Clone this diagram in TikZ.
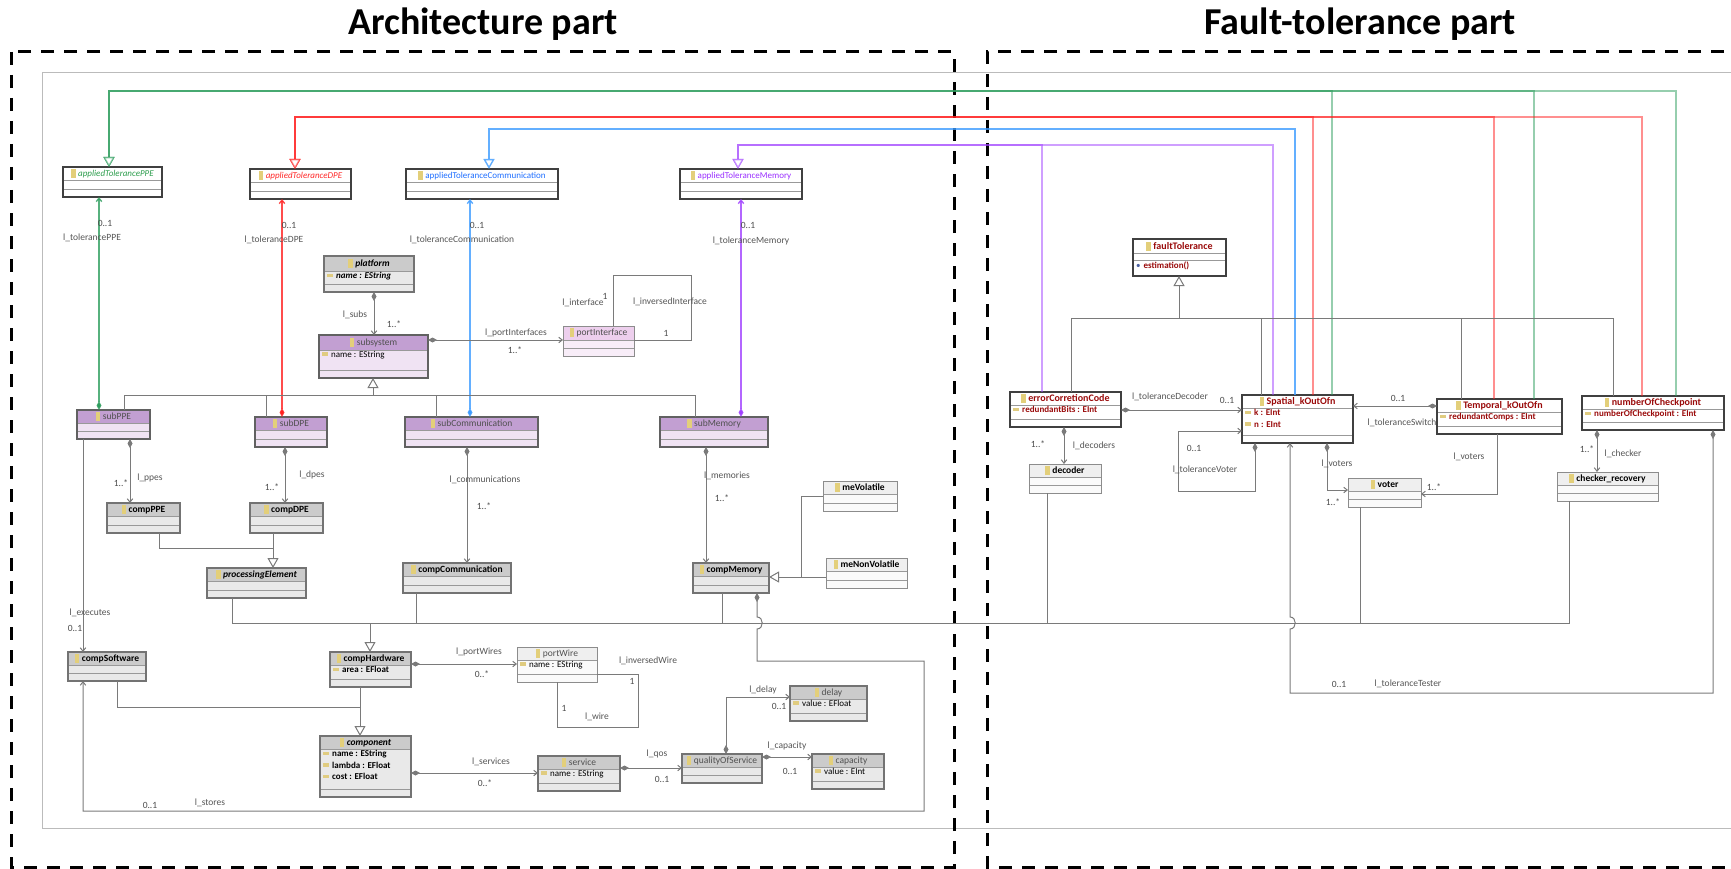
\documentclass[tikz,border=0pt]{standalone}
\usepackage{fontspec}
\setmainfont{Carlito}
\usetikzlibrary{arrows.meta}
\definecolor{cG}{HTML}{2E9E5E}
\definecolor{cR}{HTML}{FF2020}
\definecolor{cB}{HTML}{3D9BFF}
\definecolor{cP}{HTML}{A040FF}
\definecolor{tG}{HTML}{2E9E4E}
\definecolor{tR}{HTML}{FF2A2A}
\definecolor{tB}{HTML}{1F6FFF}
\definecolor{tP}{HTML}{9B30FF}
\definecolor{dred}{HTML}{9A0A0A}
\definecolor{grH}{HTML}{CBCBCB}
\definecolor{grB}{HTML}{E9E9E9}
\definecolor{puH}{HTML}{C29FD2}
\definecolor{puB}{HTML}{F0E3F3}
\definecolor{pkH}{HTML}{EDCFED}
\definecolor{pkB}{HTML}{F8EDF8}
\definecolor{whH}{HTML}{FFFFFF}
\definecolor{whB}{HTML}{FFFFFF}
\definecolor{lgH}{HTML}{EFEFEF}
\definecolor{lgB}{HTML}{FAFAFA}
\definecolor{icY}{HTML}{E3CF7A}
\definecolor{icA}{HTML}{E0CC80}
\definecolor{opB}{HTML}{4A5FA0}
\definecolor{lnC}{HTML}{7A7A7A}
\definecolor{lblC}{HTML}{555555}
\definecolor{frC}{HTML}{BBBBBB}
\definecolor{tGray}{HTML}{505050}
\tikzset{
 clsnode/.style={rectangle, inner sep=0pt, outer sep=0pt, draw=none},
 sepline/.style={draw=black!40, line width=0.8pt},
 grborder/.style={draw=black!55, line width=1.1pt},
 puborder/.style={draw=black!62, line width=1.2pt},
 pkborder/.style={draw=black!45, line width=1pt},
 whborder/.style={draw=black!75, line width=1.4pt},
 lgborder/.style={draw=black!45, line width=1pt},
 ctitle/.style={inner sep=0pt, font=\fontsize{9.5}{11}\selectfont},
 cattr/.style={anchor=north west, inner sep=0pt, align=left, font=\fontsize{9}{11.5}\selectfont},
 conn/.style={draw=lnC, line width=1pt},
 cline/.style={line width=1.4pt, draw opacity=0.5},
 aline/.style={line width=1.4pt, draw opacity=0.8},
 lbltxt/.style={inner sep=0pt, text=lblC, font=\fontsize{9.5}{11}\selectfont},
 multtxt/.style={inner sep=0pt, text=black!70, font=\fontsize{9.5}{11}\selectfont},
 titletxt/.style={inner sep=0pt, font=\fontsize{38}{40}\selectfont\bfseries},
 dashframe/.style={draw=black, line width=3pt, dash pattern=on 13pt off 10pt},
 Dmd/.tip={Diamond[length=9pt,width=5pt]},
 Nav/.tip={Straight Barb[length=3.5pt,width=5.5pt]},
 Gen/.tip={Triangle[length=10pt,width=11pt,fill=white]},
}
\newcommand\cicon{\textcolor{icY}{\rule[-1.5pt]{4.5pt}{9pt}}}
\newcommand\aicon{\textcolor{icA}{\rule[1.5pt]{6pt}{3.5pt}}}
\newcommand\ttl[1]{\cicon\hspace{2.5pt}#1}
\newcommand\att[1]{\aicon\hspace{3pt}#1}
\newcommand\ftt[1]{\fontsize{10}{11}\selectfont\bfseries\textcolor{dred}{#1}}
% #1 name #2 x1 #3 y1 #4 x2 #5 y2 #6 kind #7 title #8 header bottom #9 attrs
\newcommand\umlcls[9]{%
 \node[clsnode, fill=#6B, minimum width={(#4-#2)*1pt}, minimum height={(#5-#3)*1pt}, anchor=north west] (#1) at (#2,#3) {};
 \fill[#6H] (#2,#3) rectangle (#4,#8);
 \draw[sepline] (#2,#8) -- (#4,#8);
 \draw[sepline] (#2,{#5-8}) -- (#4,{#5-8});
 \draw[#6border] (#1.north west) rectangle (#1.south east);
 \node[ctitle] (#1-t) at ({(#2+#4)/2},{(#3+#8)/2}) {#7};
 \node[cattr] (#1-a) at ({#2+3},{#8+1}) {#9};
}
\newcounter{lblcnt}
\newcommand\lbl[3]{\stepcounter{lblcnt}\node[lbltxt] (lab\arabic{lblcnt}) at (#1,#2) {#3};}
\newcommand\mlt[3]{\stepcounter{lblcnt}\node[multtxt] (lab\arabic{lblcnt}) at (#1,#2) {#3};}
\begin{document}
\begin{tikzpicture}[x=1pt,y=-1pt]
\useasboundingbox (0,0) rectangle (1731,869);
\clip (0,0) rectangle (1731,869);
\fill[white] (0,0) rectangle (1731,869);
% frames
\draw[draw=frC, line width=1pt] (1745,73) -- (42,73) -- (42,828) -- (1745,828);
\draw[dashframe] (11,52) rectangle (954,867);
\draw[dashframe] (1770,52) -- (987,52) -- (987,867) -- (1770,867);
\node[titletxt] (title1) at (483,24) {Architecture part};
\node[titletxt] (title2) at (1360,24) {Fault-tolerance part};

% ---------- classes: architecture part ----------
\umlcls{atPPE}{63}{167}{162}{197}{wh}{\ttl{\fontsize{9}{10}\selectfont\textcolor{tG}{\itshape appliedTolerancePPE}}}{180}{}
\umlcls{atDPE}{250}{169}{351}{199}{wh}{\ttl{\fontsize{9}{10}\selectfont\textcolor{tR}{\itshape appliedToleranceDPE}}}{182}{}
\umlcls{atComm}{406}{169}{558}{199}{wh}{\ttl{\fontsize{9}{10}\selectfont\textcolor{tB}{appliedToleranceCommunication}}}{182}{}
\umlcls{atMem}{680}{169}{802}{199}{wh}{\ttl{\fontsize{9}{10}\selectfont\textcolor{tP}{appliedToleranceMemory}}}{182}{}
\umlcls{platform}{324}{256}{414}{292}{gr}{\ttl{\bfseries\itshape platform}}{271}{\att{\bfseries\itshape name : EString}}
\umlcls{subsystem}{319}{335}{428}{378}{pu}{\ttl{\textcolor{tGray}{subsystem}}}{350}{\att{name : EString}}
\umlcls{portInterface}{563}{326}{634}{356}{pk}{\ttl{\textcolor{tGray}{portInterface}}}{340}{}
\umlcls{subPPE}{77}{410}{150}{439}{pu}{\ttl{\textcolor{tGray}{subPPE}}}{423}{}
\umlcls{subDPE}{255}{417}{327}{447}{pu}{\ttl{\textcolor{tGray}{subDPE}}}{430}{}
\umlcls{subComm}{405}{417}{538}{447}{pu}{\ttl{\textcolor{tGray}{subCommunication}}}{430}{}
\umlcls{subMem}{660}{417}{768}{447}{pu}{\ttl{\textcolor{tGray}{subMemory}}}{430}{}
\umlcls{compPPE}{107}{503}{180}{533}{gr}{\ttl{\bfseries compPPE}}{516}{}
\umlcls{compDPE}{250}{503}{323}{533}{gr}{\ttl{\bfseries compDPE}}{516}{}
\umlcls{procElem}{207}{568}{306}{598}{gr}{\ttl{\bfseries\itshape processingElement}}{581}{}
\umlcls{compComm}{403}{563}{511}{593}{gr}{\ttl{\bfseries compCommunication}}{576}{}
\umlcls{compMem}{693}{563}{769}{593}{gr}{\ttl{\bfseries compMemory}}{576}{}
\umlcls{meVol}{823}{481}{897}{511}{lg}{\ttl{\bfseries meVolatile}}{494}{}
\umlcls{meNonVol}{826}{558}{907}{588}{lg}{\ttl{\bfseries meNonVolatile}}{571}{}
\umlcls{compSoftware}{68}{652}{146}{681}{gr}{\ttl{\bfseries compSoftware}}{665}{}
\umlcls{compHardware}{330}{652}{411}{687}{gr}{\ttl{\bfseries compHardware}}{665}{\att{\bfseries area : EFloat}}
\umlcls{component}{320}{736}{411}{797}{gr}{\ttl{\bfseries\itshape component}}{749}{\att{\bfseries name : EString}\\\att{\bfseries lambda : EFloat}\\\att{\bfseries cost : EFloat}}
\umlcls{portWire}{517}{647}{597}{682}{lg}{\ttl{\textcolor{tGray}{portWire}}}{660}{\att{name : EString}}
\umlcls{service}{538}{756}{620}{791}{gr}{\ttl{\textcolor{tGray}{service}}}{769}{\att{name : EString}}
\umlcls{qos}{682}{754}{762}{783}{gr}{\ttl{\textcolor{tGray}{qualityOfService}}}{767}{}
\umlcls{delay}{790}{686}{867}{721}{gr}{\ttl{\textcolor{tGray}{delay}}}{699}{\att{value : EFloat}}
\umlcls{capacity}{812}{754}{884}{789}{gr}{\ttl{\textcolor{tGray}{capacity}}}{767}{\att{value : EInt}}

% ---------- classes: fault-tolerance part ----------
\node[clsnode, fill=white, minimum width=93pt, minimum height=37pt, anchor=north west] (faultTol) at (1133,239) {};
\draw[sepline] (1133,253) -- (1226,253);
\draw[sepline] (1133,260) -- (1226,260);
\draw[whborder] (faultTol.north west) rectangle (faultTol.south east);
\node[ctitle] (faultTol-t) at (1179.5,246) {\ttl{\ftt{faultTolerance}}};
\node[cattr] (faultTol-a) at (1136,262) {\textcolor{opB}{\textbullet}\hspace{3pt}\bfseries\textcolor{dred}{estimation()}};
\umlcls{ecc}{1010}{392}{1121}{427}{wh}{\ttl{\ftt{errorCorretionCode}}}{405}{\att{\bfseries\textcolor{dred}{redundantBits : EInt}}}
\umlcls{spatial}{1242}{395}{1353}{443}{wh}{\ttl{\ftt{Spatial\_kOutOfn}}}{408}{\att{\bfseries\textcolor{dred}{k : EInt}}\\\att{\bfseries\textcolor{dred}{n : EInt}}}
\umlcls{decoder}{1029}{464}{1101}{493}{lg}{\ttl{\bfseries decoder}}{477}{}
\umlcls{voter}{1348}{478}{1421}{507}{lg}{\ttl{\bfseries voter}}{491}{}
\umlcls{temporal}{1437}{399}{1562}{434}{wh}{\ttl{\ftt{Temporal\_kOutOfn}}}{412}{\att{\bfseries\textcolor{dred}{redundantComps : EInt}}}
\umlcls{noc}{1582}{396}{1724}{430}{wh}{\ttl{\ftt{numberOfCheckpoint}}}{409}{\att{\bfseries\textcolor{dred}{numberOfCheckpoint : EInt}}}
\umlcls{checker}{1557}{472}{1658}{501}{lg}{\ttl{\bfseries checker\_recovery}}{485}{}

% ---------- coloured inheritance lines (semi-transparent, overlapping) ----------
\draw[cline, draw=cG, -Gen] (noc.north -| 1676,0) -- (1676,91) -- (109,91) -- (atPPE.north -| 109,0);
\draw[cline, draw=cG, -Gen] (spatial.north -| 1332,0) -- (1332,91) -- (109,91) -- (atPPE.north -| 109,0);
\draw[cline, draw=cG, -Gen] (temporal.north -| 1534,0) -- (1534,91) -- (109,91) -- (atPPE.north -| 109,0);
\draw[cline, draw=cR, -Gen] (noc.north -| 1642,0) -- (1642,117) -- (295,117) -- (atDPE.north -| 295,0);
\draw[cline, draw=cR, -Gen] (spatial.north -| 1313,0) -- (1313,117) -- (295,117) -- (atDPE.north -| 295,0);
\draw[cline, draw=cR, -Gen] (temporal.north -| 1494,0) -- (1494,117) -- (295,117) -- (atDPE.north -| 295,0);
\draw[cline, draw=cB, draw opacity=0.8, -Gen] (spatial.north -| 1295,0) -- (1295,129) -- (489,129) -- (atComm.north -| 489,0);
\draw[cline, draw=cP, -Gen] (spatial.north -| 1273,0) -- (1273,145) -- (738,145) -- (atMem.north -| 738,0);
\draw[cline, draw=cP, -Gen] (ecc.north -| 1042,0) -- (1042,145) -- (738,145) -- (atMem.north -| 738,0);

% ---------- coloured associations ----------
\draw[aline, draw=cG, Dmd-Nav] (subPPE.north -| 99,0) -- (atPPE.south -| 99,0);
\draw[aline, draw=cR, Dmd-Nav] (subDPE.north -| 282,0) -- (atDPE.south -| 282,0);
\draw[aline, draw=cB, Dmd-Nav] (subComm.north -| 470,0) -- (atComm.south -| 470,0);
\draw[aline, draw=cP, Dmd-Nav] (subMem.north -| 741,0) -- (atMem.south -| 741,0);

% ---------- architecture connectors ----------
\draw[conn, Dmd-Nav] (platform.south -| 374,0) -- (subsystem.north -| 374,0);
\draw[conn, Dmd-Nav] (subsystem.east |- 0,340) -- (portInterface.west |- 0,340);
\draw[conn] (portInterface.north -| 613,0) -- (613,275) -- (691,275) -- (691,340) -- (portInterface.east |- 0,340);
\draw[conn] (subPPE.north -| 124,0) -- (124,395) -- (695,395) -- (subMem.north -| 695,0);
\draw[conn] (subDPE.north -| 266,0) -- (266,395);
\draw[conn] (subComm.north -| 436,0) -- (436,395);
\draw[conn, -Gen] (373,395) -- (subsystem.south -| 373,0);
\draw[conn, Dmd-Nav] (subPPE.south -| 130,0) -- (compPPE.north -| 130,0);
\draw[conn, Dmd-Nav] (subDPE.south -| 285,0) -- (compDPE.north -| 285,0);
\draw[conn, Dmd-Nav] (subComm.south -| 467,0) -- (compComm.north -| 467,0);
\draw[conn, Dmd-Nav] (subMem.south -| 706,0) -- (compMem.north -| 706,0);
\draw[conn] (compPPE.south -| 159,0) -- (159,548) -- (273,548);
\draw[conn, -Gen] (compDPE.south -| 273,0) -- (procElem.north -| 273,0);
\draw[conn, -Gen] (meNonVol.west |- 0,577) -- (compMem.east |- 0,577);
\draw[conn] (meVol.west |- 0,496) -- (801,496) -- (801,577);
\draw[conn] (procElem.south -| 232,0) -- (232,623) -- (1569,623) -- (checker.south -| 1569,0);
\draw[conn] (compComm.south -| 416,0) -- (416,623);
\draw[conn] (compMem.south -| 722,0) -- (722,623);
\draw[conn] (decoder.south -| 1047,0) -- (1047,623);
\draw[conn] (voter.south -| 1360,0) -- (1360,623);
\draw[conn, -Gen] (370,623) -- (compHardware.north -| 370,0);
\draw[conn, -Nav] (subPPE.south -| 83,0) -- (compSoftware.north -| 83,0);
\draw[conn] (compSoftware.south -| 117,0) -- (117,707) -- (360,707);
\draw[conn, -Gen] (compHardware.south -| 360,0) -- (component.north -| 360,0);
\draw[conn, Dmd-Nav] (compHardware.east |- 0,664) -- (portWire.west |- 0,664);
\draw[conn] (portWire.south -| 557,0) -- (557,727) -- (638,727) -- (638,674) -- (portWire.east |- 0,674);
\draw[conn, Dmd-Nav] (component.east |- 0,773) -- (service.west |- 0,773);
\draw[conn, Dmd-Nav] (service.east |- 0,768) -- (qos.west |- 0,768);
\draw[conn, Dmd-Nav] (qos.north -| 726,0) -- (726,697) -- (delay.west |- 0,697);
\draw[conn, Dmd-Nav] (qos.east |- 0,757) -- (capacity.west |- 0,757);
\draw[conn, Dmd-Nav] (compMem.south -| 757,0) -- (757,617) .. controls (764,617) and (764,629) .. (757,629) -- (757,661) -- (924,661) -- (924,811) -- (83,811) -- (compSoftware.south -| 83,0);

% ---------- fault-tolerance connectors ----------
\draw[conn, -Gen] (1179,318) -- (faultTol.south -| 1179,0);
\draw[conn] (ecc.north -| 1071,0) -- (1071,318) -- (1613,318) -- (noc.north -| 1613,0);
\draw[conn] (spatial.north -| 1261,0) -- (1261,318);
\draw[conn] (temporal.north -| 1461,0) -- (1461,318);
\draw[conn, Dmd-Nav] (ecc.east |- 0,410) -- (spatial.west |- 0,410);
\draw[conn, Dmd-Nav] (ecc.south -| 1064,0) -- (decoder.north -| 1064,0);
\draw[conn, Dmd-Nav] (spatial.south -| 1255,0) -- (1255,491) -- (1178,491) -- (1178,431) -- (spatial.west |- 0,431);
\draw[conn, Dmd-Nav] (spatial.south -| 1327,0) -- (1327,490) -- (voter.west |- 0,490);
\draw[conn, Dmd-Nav] (temporal.west |- 0,406) -- (spatial.east |- 0,406);
\draw[conn, -Nav] (temporal.south -| 1497,0) -- (1497,494) -- (voter.east |- 0,494);
\draw[conn, Dmd-Nav] (noc.south -| 1597,0) -- (checker.north -| 1597,0);
\draw[conn, Dmd-Nav] (noc.south -| 1713,0) -- (1713,693) -- (1290,693) -- (1290,629) .. controls (1297,629) and (1297,617) .. (1290,617) -- (spatial.south -| 1290,0);

% ---------- labels ----------
\mlt{105}{223}{0..1}\lbl{92}{238}{l\_tolerancePPE}
\mlt{289}{225}{0..1}\lbl{274}{240}{l\_toleranceDPE}
\mlt{477}{225}{0..1}\lbl{462}{240}{l\_toleranceCommunication}
\mlt{748}{225}{0..1}\lbl{751}{241}{l\_toleranceMemory}
\lbl{355}{315}{l\_subs}\mlt{394}{324}{1..*}
\lbl{516}{333}{l\_portInterfaces}\mlt{515}{350}{1..*}
\lbl{583}{303}{l\_interface}\mlt{605}{296}{1}
\lbl{670}{302}{l\_inversedInterface}\mlt{666}{333}{1}
\lbl{150}{478}{l\_ppes}\mlt{121}{483}{1..*}
\lbl{312}{475}{l\_dpes}\mlt{272}{487}{1..*}
\lbl{485}{480}{l\_communications}\mlt{484}{506}{1..*}
\lbl{727}{476}{l\_memories}\mlt{722}{498}{1..*}
\lbl{90}{613}{l\_executes}\mlt{75}{628}{0..1}
\lbl{479}{652}{l\_portWires}\mlt{482}{674}{0..*}
\lbl{648}{661}{l\_inversedWire}\mlt{632}{681}{1}\mlt{564}{708}{1}\lbl{597}{717}{l\_wire}
\lbl{491}{762}{l\_services}\mlt{485}{783}{0..*}
\lbl{657}{754}{l\_qos}\mlt{662}{779}{0..1}
\lbl{763}{690}{l\_delay}\mlt{779}{706}{0..1}
\lbl{787}{746}{l\_capacity}\mlt{790}{771}{0..1}
\mlt{150}{805}{0..1}\lbl{210}{803}{l\_stores}
\lbl{1170}{397}{l\_toleranceDecoder}\mlt{1227}{400}{0..1}
\mlt{1038}{444}{1..*}\lbl{1094}{446}{l\_decoders}
\mlt{1194}{448}{0..1}\lbl{1205}{470}{l\_toleranceVoter}
\lbl{1337}{464}{l\_voters}\mlt{1333}{502}{1..*}
\mlt{1398}{398}{0..1}\lbl{1402}{423}{l\_toleranceSwitch}
\lbl{1469}{457}{l\_voters}\mlt{1434}{487}{1..*}
\mlt{1587}{449}{1..*}\lbl{1623}{454}{l\_checker}
\mlt{1339}{684}{0..1}\lbl{1408}{684}{l\_toleranceTester}
\end{tikzpicture}
\end{document}
